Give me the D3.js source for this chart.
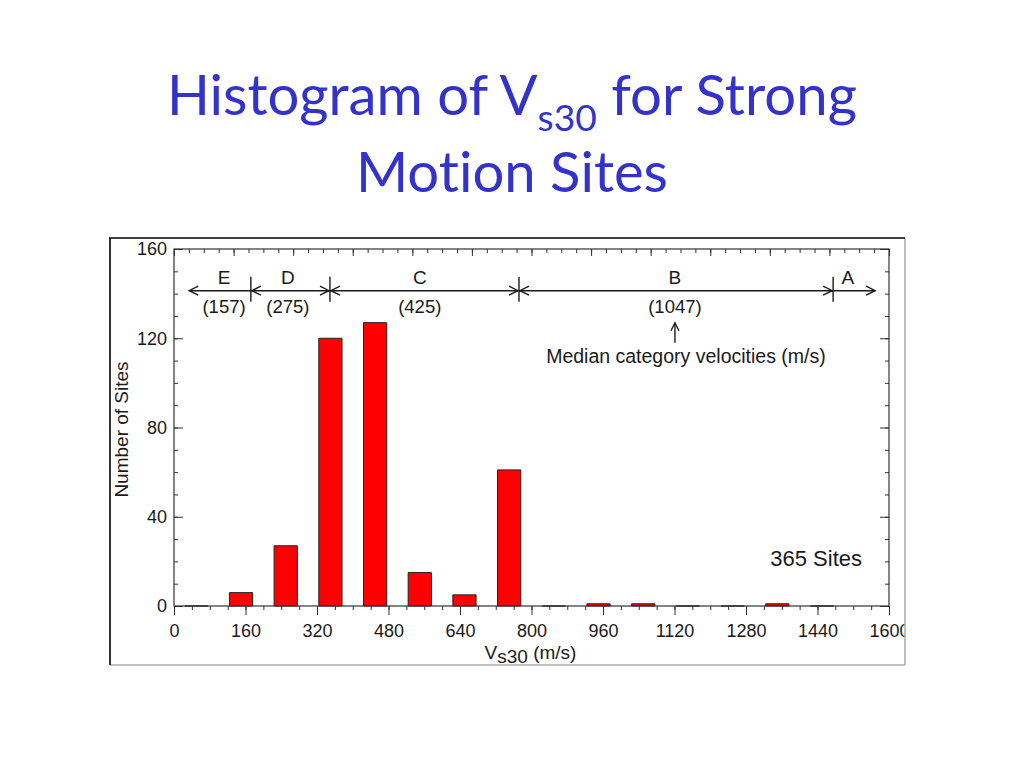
<html>
<head>
  <style>
    body { margin: 0; background: #fff; }
    svg text { font-family: "Liberation Sans", Arial, sans-serif; fill: #1a1a1a; }
    svg .title { font-family: Lato, "Open Sans", sans-serif; fill: #3333cc; font-variant-ligatures: none; }
    svg .axis line { stroke: #333; stroke-width: 1px; }
    svg .axis .domain { display: none; }
    svg .bar { fill: #ff0000; stroke: #222; stroke-width: 1px; }
    svg .arrow { stroke: #1a1a1a; stroke-width: 1.4px; fill: none; }
  </style>
</head>
<body>
<div id="chart"></div>
<script src="https://d3js.org/d3.v7.min.js"></script>
<script>
// histogram bins (bin centre, m/s) and counts
var binCenters = [50, 150, 250, 350, 450, 550, 650, 750, 850, 950, 1050, 1150, 1250, 1350, 1450];
var siteCounts = [0, 6, 27, 120, 127, 15, 5, 61, 0, 1, 1, 0, 0, 1, 0];
var barWidth = 52;   // m/s

var xTicks = [0, 160, 320, 480, 640, 800, 960, 1120, 1280, 1440, 1600];
var yTicks = [0, 40, 80, 120, 160];

// NEHRP site classes along the top
var siteClasses  = ["E", "D", "C", "B", "A"];
var classBounds  = [34, 172, 349, 772, 1475, 1569];
var classMedians = ["(157)", "(275)", "(425)", "(1047)", ""];
var classLabelAt = [112, 255, 550, 1121, 1508];

(function () {
  var W = 1024, H = 768;
  var plot = { left: 174, top: 249, width: 715, height: 357 };

  var svg = d3.select("#chart")
    .append("svg")
      .attr("width", W)
      .attr("height", H);

  // ---- title ----
  var title = svg.append("g").attr("class", "titleblock");

  var t1 = title.append("text")
      .classed("title", true)
      .attr("x", 512)
      .attr("y", 115)
      .style("font-size", "56px")
      .style("text-anchor", "middle");
  t1.append("tspan").text("Histogram of V");
  t1.append("tspan").text("s30").style("font-size", "37px").attr("dy", 16);
  t1.append("tspan").text(" for Strong").attr("dy", -16);

  title.append("text")
      .classed("title", true)
      .attr("x", 512)
      .attr("y", 192)
      .style("font-size", "56px")
      .style("text-anchor", "middle")
      .text("Motion Sites");

  // squeeze the substitute font to the width of the original line
  var w1 = t1.node().getComputedTextLength();
  var sx = 690 / w1;
  title.selectAll("text")
      .attr("transform", "translate(512,0) scale(" + sx + ",1) translate(-512,0)");

  // ---- figure frame (image border) ----
  svg.append("defs").append("clipPath")
      .attr("id", "figclip")
    .append("rect")
      .attr("x", 110).attr("y", 238)
      .attr("width", 795).attr("height", 427);

  var fig = svg.append("g").attr("clip-path", "url(#figclip)");

  svg.append("line").attr("x1", 905).attr("y1", 238).attr("x2", 905).attr("y2", 665)
      .style("stroke", "#aaa").style("stroke-width", "1.5px");
  svg.append("line").attr("x1", 110).attr("y1", 665).attr("x2", 905).attr("y2", 665)
      .style("stroke", "#aaa").style("stroke-width", "1.5px");
  svg.append("line").attr("x1", 109).attr("y1", 238).attr("x2", 905).attr("y2", 238)
      .style("stroke", "#000").style("stroke-width", "1.6px");
  svg.append("line").attr("x1", 110).attr("y1", 238).attr("x2", 110).attr("y2", 665)
      .style("stroke", "#000").style("stroke-width", "1.6px");

  var g = fig.append("g")
      .attr("transform", "translate(" + plot.left + "," + plot.top + ")");

  // scales
  var x = d3.scaleLinear().domain([0, 1600]).range([0, plot.width]);
  var y = d3.scaleLinear().domain([0, 160]).range([plot.height, 0]);

  // ---- bars (paths so empty bins still show as a stroke) ----
  var bins = binCenters.map(function (c, i) { return { c: c, n: siteCounts[i] }; });

  g.selectAll("path.bar")
      .data(bins)
    .enter().append("path")
      .classed("bar", true)
      .attr("d", function (d) {
        var x0 = x(d.c - barWidth / 2), x1 = x(d.c + barWidth / 2);
        return "M" + x0 + "," + y(0) + "V" + y(d.n) + "H" + x1 + "V" + y(0) + "Z";
      });

  // ---- axes ----
  // bottom: labelled major ticks outward, minor ticks every 40
  g.append("g")
      .classed("axis", true)
      .attr("transform", "translate(0," + plot.height + ")")
      .call(d3.axisBottom(x).tickValues(d3.range(0, 1601, 40)).tickSize(4).tickFormat(""));
  g.append("g")
      .classed("axis", true)
      .attr("transform", "translate(0," + plot.height + ")")
      .call(d3.axisBottom(x).tickValues(xTicks).tickSize(9).tickPadding(9)
        .tickSizeOuter(0).tickFormat(d3.format("d")))
    .selectAll("text")
      .style("font-size", "18px")
      .style("fill", "#1a1a1a");

  // top: its own spacing, ticks inward
  g.append("g")
      .classed("axis", true)
      .call(d3.axisTop(x).tickValues(d3.range(49).map(function (i) { return i * 1600 / 48; }))
        .tickSize(-4).tickFormat(""));
  g.append("g")
      .classed("axis", true)
      .call(d3.axisTop(x).tickValues(d3.range(13).map(function (i) { return i * 1600 / 12; }))
        .tickSize(-7).tickFormat(""));

  // left: ticks inward, labels outside
  g.append("g")
      .classed("axis", true)
      .call(d3.axisLeft(y).tickValues(d3.range(0, 161, 10)).tickSize(-4).tickFormat(""));
  g.append("g")
      .classed("axis", true)
      .call(d3.axisLeft(y).tickValues(yTicks).tickSize(-9).tickPadding(7).tickSizeOuter(0))
    .selectAll("text")
      .style("font-size", "18px")
      .style("fill", "#1a1a1a");

  // right: ticks inward
  g.append("g")
      .classed("axis", true)
      .attr("transform", "translate(" + plot.width + ",0)")
      .call(d3.axisRight(y).tickValues(d3.range(0, 161, 10)).tickSize(-4).tickFormat(""));
  g.append("g")
      .classed("axis", true)
      .attr("transform", "translate(" + plot.width + ",0)")
      .call(d3.axisRight(y).tickValues(yTicks).tickSize(-9).tickFormat(""));

  // plot frame
  g.append("rect")
      .attr("width", plot.width)
      .attr("height", plot.height)
      .style("fill", "none")
      .style("stroke", "#333")
      .style("stroke-width", "1.2px");

  // ---- axis titles ----
  var xl = g.append("text")
      .attr("x", x(800) - 1)
      .attr("y", plot.height + 53)
      .style("text-anchor", "middle")
      .style("font-size", "19px");
  xl.append("tspan").text("V");
  xl.append("tspan").text("s30").attr("dy", 4);
  xl.append("tspan").text(" (m/s)").attr("dy", -4);

  g.append("text")
      .attr("transform", "rotate(-90)")
      .attr("x", -(y(80) + 2))
      .attr("y", -46)
      .style("text-anchor", "middle")
      .style("font-size", "19px")
      .text("Number of Sites");

  // ---- site class arrows ----
  var ay = y(141.3);

  function head(px, dir) {
    // open arrow head, dir = -1 points left, +1 points right
    return "M" + (px - dir * 9) + "," + (ay - 4.5) + "L" + px + "," + ay +
           "L" + (px - dir * 9) + "," + (ay + 4.5);
  }

  siteClasses.forEach(function (c, i) {
    var a = x(classBounds[i]), b = x(classBounds[i + 1]);
    var first = (i === 0), last = (i === siteClasses.length - 1);
    g.append("line").classed("arrow", true)
        .attr("x1", a).attr("y1", ay).attr("x2", b).attr("y2", ay);
    // E runs off to the left, A off to the right; the rest point both ways
    if (!last) {
      g.append("path").classed("arrow", true).attr("d", head(first ? a : a + 1, -1));
    }
    if (!first) {
      g.append("path").classed("arrow", true).attr("d", head(last ? b : b - 1, 1));
    }
    g.append("text")
        .attr("x", x(classLabelAt[i]))
        .attr("y", ay - 7)
        .style("text-anchor", "middle")
        .style("font-size", "19px")
        .text(c);
    g.append("text")
        .attr("x", x(classLabelAt[i]))
        .attr("y", ay + 22)
        .style("text-anchor", "middle")
        .style("font-size", "18.5px")
        .text(classMedians[i]);
  });

  // class boundaries
  g.selectAll("line.bound")
      .data(classBounds.slice(1, 5))
    .enter().append("line")
      .classed("arrow", true)
      .attr("x1", function (d) { return x(d); })
      .attr("x2", function (d) { return x(d); })
      .attr("y1", ay - 14)
      .attr("y2", ay + 11);

  // median pointer
  var mx = x(classLabelAt[3]);
  g.append("line").classed("arrow", true)
      .attr("x1", mx).attr("x2", mx)
      .attr("y1", ay + 52).attr("y2", ay + 32);
  g.append("path").classed("arrow", true)
      .attr("d", "M" + (mx - 4) + "," + (ay + 40) + "L" + mx + "," + (ay + 32) + "L" + (mx + 4) + "," + (ay + 40));

  g.append("text")
      .attr("x", mx + 11)
      .attr("y", ay + 72)
      .style("text-anchor", "middle")
      .style("font-size", "19.5px")
      .text("Median category velocities (m/s)");

  g.append("text")
      .attr("x", plot.width - 27)
      .attr("y", y(18))
      .style("text-anchor", "end")
      .style("font-size", "22px")
      .text("365 Sites");
})();
</script>
</body>
</html>
